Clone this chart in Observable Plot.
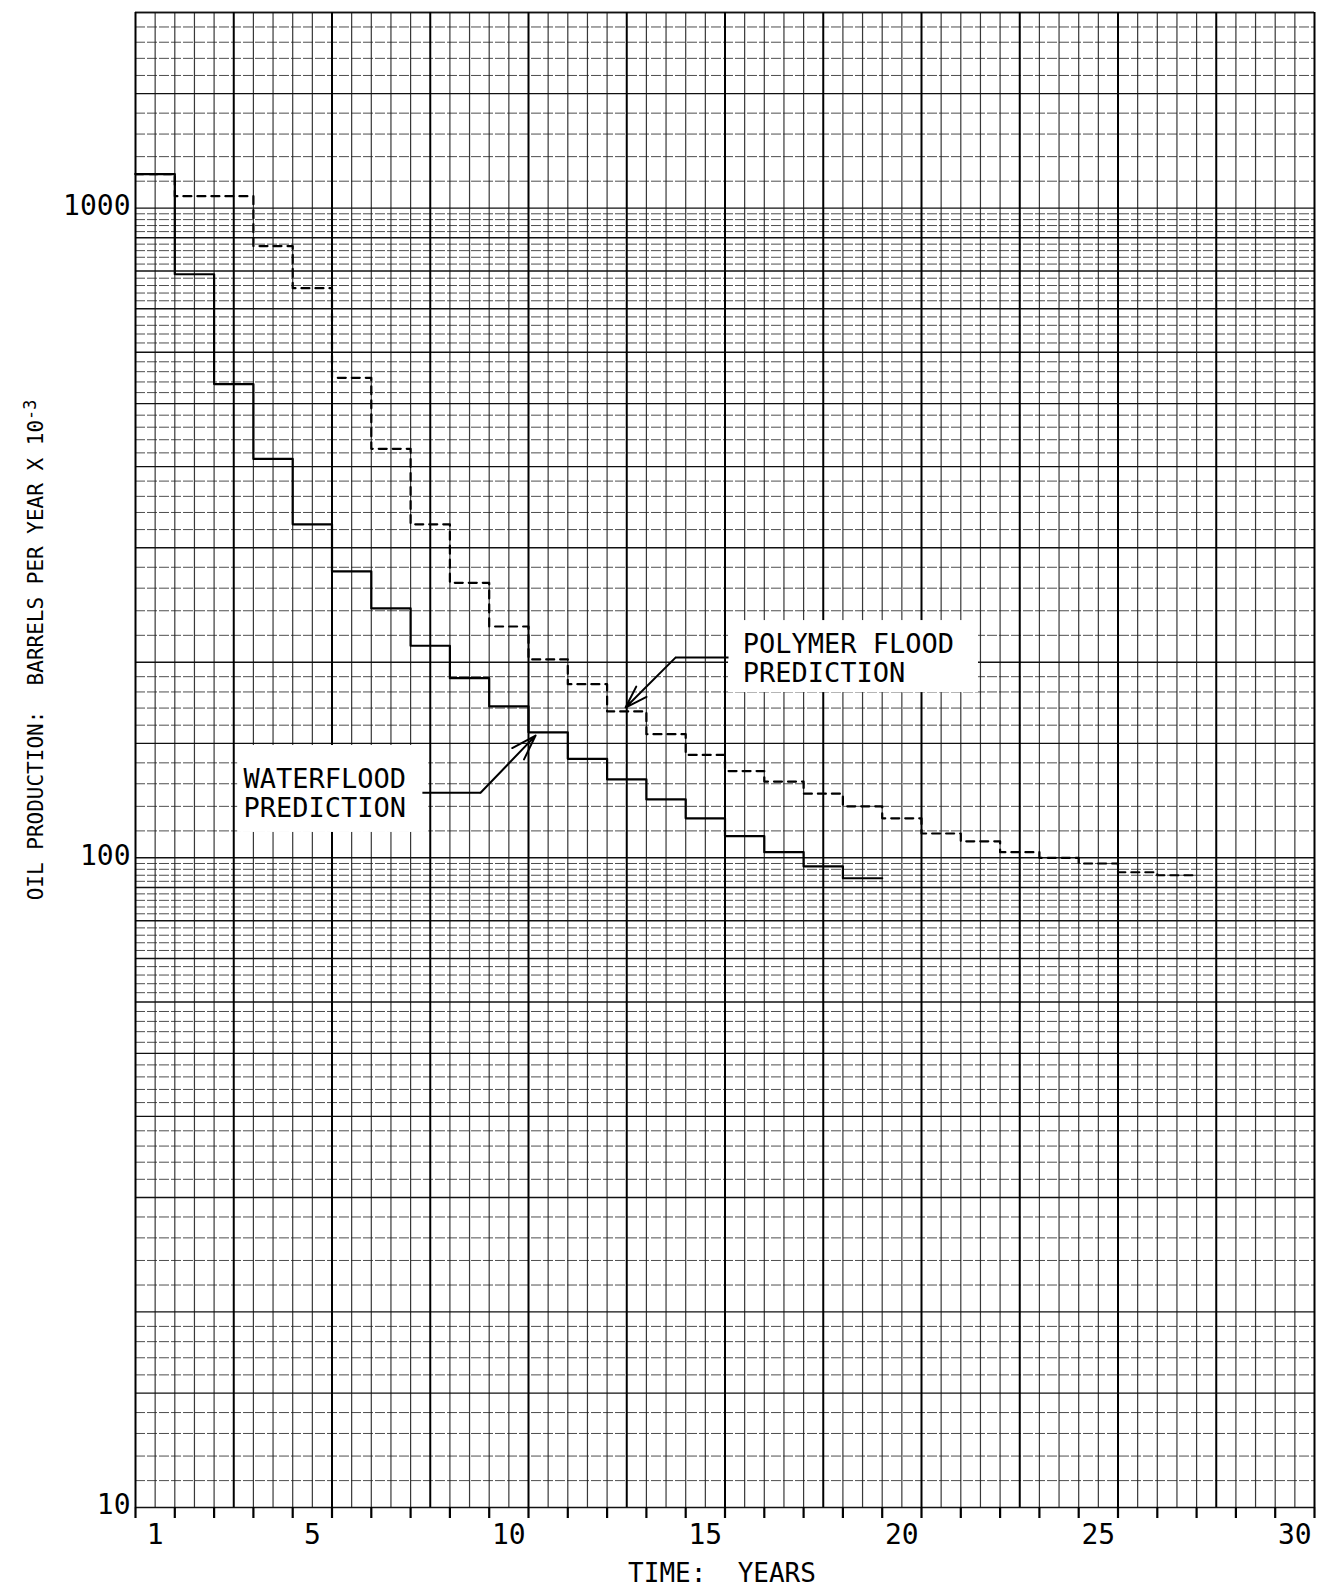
<!DOCTYPE html>
<html>
<head>
<meta charset="utf-8">
<script src="https://cdn.jsdelivr.net/npm/d3@7"></script>
<script src="https://cdn.jsdelivr.net/npm/@observablehq/plot@0.6"></script>
<style>
  html, body { margin: 0; padding: 0; background: #fff; }
  #chart { width: 1317px; height: 1590px; }
  svg text { white-space: pre; }
</style>
</head>
<body>
<div id="chart"></div>
<script>
// ---- data ----
// annual oil production, thousands of barrels per year, for years 1..n
const waterfloodYears = [1,2,3,4,5,6,7,8,9,10,11,12,13,14,15,16,17,18,19];
const waterflood = [1128, 791, 536, 411, 326, 276, 242, 212, 189, 171, 156, 142, 132, 123, 115, 108, 102, 97, 93];
const polymerYears = [1,2,3,4,5,6,7,8,9,10,11,12,13,14,15,16,17,18,19,20,21,22,23,24,25,26,27];
const polymer = [1128, 1043, 1043, 874, 753, 548, 426, 326, 265, 227, 202, 185, 168, 155, 144, 136, 131, 125.5, 120, 115, 109, 106, 102, 100, 98, 95, 94];

// tick labels
const xTickLabels = [1, 5, 10, 15, 20, 25, 30];
const yTickLabels = [10, 100, 1000];
const xTickYears = d3.range(0, 31);

// titles
const xTitle = "TIME:  YEARS";
const yTitle = "OIL PRODUCTION:  BARRELS PER YEAR X 10";
const yTitleExponent = "-3";

// annotation texts
const annotationTexts = ["POLYMER FLOOD\nPREDICTION", "WATERFLOOD\nPREDICTION"];
const annotationTextX = [15.45, 2.75];
const annotationTextY = [203, 125.6];
const annotationBoxX1 = [15.09, 2.6];
const annotationBoxX2 = [21.45, 7.46];
const annotationBoxY1 = [179.6, 109.4];
const annotationBoxY2 = [231.8, 148.9];
const leaderStartX = [15.09, 7.30];
const leaderStartY = [203.3, 125.9];
const leaderElbowX = [13.74, 8.78];
const leaderElbowY = [203.3, 125.9];
const arrowTipX = [12.47, 10.18];
const arrowTipY = [170.3, 154.2];

// ---- derived tables ----
function steps(years, values) {
  const pts = years.map((yr, i) => ({x: yr - 1, y: values[i]}));
  pts.push({x: years[years.length - 1], y: values[values.length - 1]});
  return pts;
}
const waterSteps = steps(waterfloodYears, waterflood);
const polySteps = steps(polymerYears, polymer);

// semi-log graph paper
const mantissas = [...d3.range(10, 20).map(k => k / 10), ...d3.range(20, 100, 2).map(k => k / 10)];
const hLines = [];
for (const dec of [10, 100, 1000]) {
  for (const m of mantissas) {
    const v = dec * m;
    if (v <= 2000 + 1e-9) hLines.push({v, heavy: Number.isInteger(m) || m === 1.5});
  }
}
hLines.push({v: 2000, heavy: true});
const vLines = d3.range(0, 61).map(k => ({x: k / 2, heavy: k % 5 === 0}));

const annotations = annotationTexts.map((t, i) => ({
  text: t, tx: annotationTextX[i], ty: annotationTextY[i],
  bx1: annotationBoxX1[i], bx2: annotationBoxX2[i], by1: annotationBoxY1[i], by2: annotationBoxY2[i],
  sx: leaderStartX[i], sy: leaderStartY[i], ex: leaderElbowX[i], ey: leaderElbowY[i],
  ax: arrowTipX[i], ay: arrowTipY[i]
}));

const FONT = "'DejaVu Sans Mono', 'Liberation Mono', monospace";

const chart = Plot.plot({
  width: 1317,
  height: 1590,
  marginLeft: 135,
  marginRight: 3,
  marginTop: 12,
  marginBottom: 83,
  style: {fontFamily: FONT, background: "#fff", color: "#000", overflow: "visible"},
  x: {type: "linear", domain: [0, 30], axis: null},
  y: {type: "log", domain: [10, 2000], axis: null},
  marks: [
    // graph paper
    Plot.ruleY(hLines.filter(d => !d.heavy), {y: "v", stroke: "#222", strokeWidth: 1, strokeOpacity: 0.8, strokeDasharray: "10,2"}),
    Plot.ruleX(vLines.filter(d => !d.heavy), {x: "x", stroke: "#222", strokeWidth: 1.2, strokeOpacity: 0.9}),
    Plot.ruleY(hLines.filter(d => d.heavy), {y: "v", stroke: "#111", strokeWidth: 1.4}),
    Plot.ruleX(vLines.filter(d => d.heavy), {x: "x", stroke: "#000", strokeWidth: 2}),
    // label boxes
    Plot.rect(annotations, {x1: "bx1", x2: "bx2", y1: "by1", y2: "by2", fill: "#fff"}),
    // predictions
    Plot.line(waterSteps, {x: "x", y: "y", curve: "step-after", stroke: "#000", strokeWidth: 2.2}),
    Plot.line(polySteps, {x: "x", y: "y", curve: "step-after", stroke: "#000", strokeWidth: 2.2, strokeDasharray: "8,6"}),
    // leaders and arrows
    Plot.link(annotations, {x1: "sx", y1: "sy", x2: "ex", y2: "ey", stroke: "#000", strokeWidth: 2}),
    Plot.arrow(annotations, {x1: "ex", y1: "ey", x2: "ax", y2: "ay", stroke: "#000", strokeWidth: 2, headLength: 24, headAngle: 36, bend: 0}),
    Plot.text(annotations, {x: "tx", y: "ty", text: "text", textAnchor: "start", lineAnchor: "middle", lineHeight: 1.08, fontSize: 27, fill: "#000"}),
    // axes
    Plot.axisX({ticks: xTickYears, tickSize: 11, strokeWidth: 2.2, tickFormat: () => ""}),
    Plot.text(xTickLabels, {x: d => d - 0.5, frameAnchor: "bottom", text: d => String(d), lineAnchor: "top", dy: 17, fontSize: 28, fill: "#000"}),
    Plot.text(yTickLabels, {y: d => d, frameAnchor: "left", text: d => String(d), textAnchor: "end", lineAnchor: "middle", dx: -5, dy: -2, fontSize: 28, fill: "#000"}),
    Plot.text([xTitle], {frameAnchor: "bottom", textAnchor: "middle", lineAnchor: "middle", dy: 66, dx: -3, fontSize: 26, fill: "#000"}),
    Plot.text([yTitle], {frameAnchor: "left", textAnchor: "middle", lineAnchor: "middle", rotate: -90, dx: -99, dy: -110, fontSize: 21, fill: "#000", className: "ytitle"})
  ]
});

// add the raised exponent "-3" to the y title as a tspan of the same text
d3.select(chart).selectAll(".ytitle text").each(function() {
  d3.select(this).append("tspan")
    .attr("dy", "-0.45em")
    .attr("font-size", "0.8em")
    .text(yTitleExponent);
});

document.getElementById("chart").appendChild(chart);
</script>
</body>
</html>
